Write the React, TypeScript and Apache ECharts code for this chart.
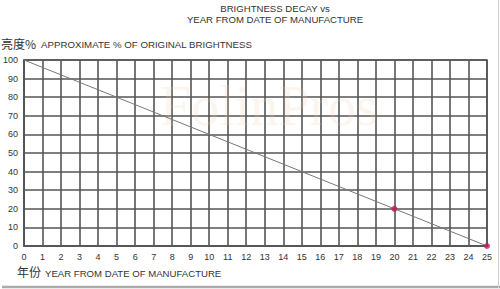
import React, { useEffect, useRef } from "react";
import * as echarts from "echarts";

const lineYears = [0, 25];
const lineBrightness = [100, 0];
const markerYears = [20, 25];
const markerBrightness = [20, 0];
const titleLines = ["BRIGHTNESS DECAY vs", "YEAR FROM DATE OF MANUFACTURE"];
const yNameCn = "亮度%";
const yNameEn = "APPROXIMATE % OF ORIGINAL BRIGHTNESS";
const xNameCn = "年份";
const xNameEn = "YEAR FROM DATE OF MANUFACTURE";
const watermark = "FolinPros";

export default function App() {
  const ref = useRef<HTMLDivElement>(null);
  useEffect(() => {
    if (!ref.current) return;
    const chart = echarts.init(ref.current, undefined, { renderer: "svg" });
    const font = "'Liberation Sans', Arial, sans-serif";
    const gridColor = "#555";
    chart.setOption({
      animation: false,
      backgroundColor: "#fff",
      grid: { left: 23, right: 13, top: 60, bottom: 43, show: true, borderColor: gridColor, borderWidth: 1.6 },
      xAxis: {
        type: "value",
        min: 0,
        max: 25,
        interval: 1,
        axisLine: { show: true, lineStyle: { color: gridColor, width: 1.6 } },
        axisTick: { show: false },
        splitLine: { show: true, lineStyle: { color: gridColor, width: 1.6 } },
        axisLabel: { color: "#333", fontSize: 9, fontFamily: font, margin: 6, showMinLabel: true, showMaxLabel: true },
      },
      yAxis: {
        type: "value",
        min: 0,
        max: 100,
        interval: 10,
        axisLine: { show: true, lineStyle: { color: gridColor, width: 1.6 } },
        axisTick: { show: false },
        splitLine: { show: true, lineStyle: { color: gridColor, width: 1.6 } },
        axisLabel: { color: "#333", fontSize: 9, fontFamily: font, margin: 6 },
      },
      series: [
        {
          type: "line",
          data: lineYears.map((x, i) => [x, lineBrightness[i]]),
          showSymbol: false,
          lineStyle: { color: "#777", width: 1 },
          z: 3,
        },
        {
          type: "scatter",
          data: markerYears.map((x, i) => [x, markerBrightness[i]]),
          symbolSize: 6,
          itemStyle: { color: "#c2185b" },
          z: 4,
        },
      ],
      graphic: [
        {
          type: "text",
          left: 160,
          top: 78,
          z: 1,
          style: {
            text: watermark,
            font: "56px 'Liberation Serif', serif",
            fill: "rgba(235,205,170,0.2)",
          },
        },
        {
          type: "text",
          x: 275,
          y: 3,
          style: {
            text: titleLines.join("\n"),
            font: `9.6px ${font}`,
            fill: "#333",
            align: "center",
            lineHeight: 11,
          },
        },
        {
          type: "text",
          x: 1,
          y: 37,
          style: { text: yNameCn, font: "12px 'Noto Sans CJK SC', sans-serif", fill: "#333" },
        },
        {
          type: "text",
          x: 41,
          y: 39,
          style: { text: yNameEn, font: `9.7px ${font}`, fill: "#333" },
        },
        {
          type: "text",
          x: 17,
          y: 265,
          style: { text: xNameCn, font: "12px 'Noto Sans CJK SC', sans-serif", fill: "#333" },
        },
        {
          type: "text",
          x: 45,
          y: 268,
          style: { text: xNameEn, font: `9.6px ${font}`, fill: "#333" },
        },
        {
          type: "line",
          shape: { x1: 2, y1: 287, x2: 500, y2: 287 },
          style: { stroke: "#aaa", lineWidth: 2.5 },
        },
        {
          type: "line",
          shape: { x1: 498.5, y1: 0, x2: 498.5, y2: 288 },
          style: { stroke: "#ccc", lineWidth: 1 },
        },
      ],
    });
    return () => chart.dispose();
  }, []);
  return <div ref={ref} style={{ width: 500, height: 289, position: "absolute", left: 0, top: 0 }} />;
}
